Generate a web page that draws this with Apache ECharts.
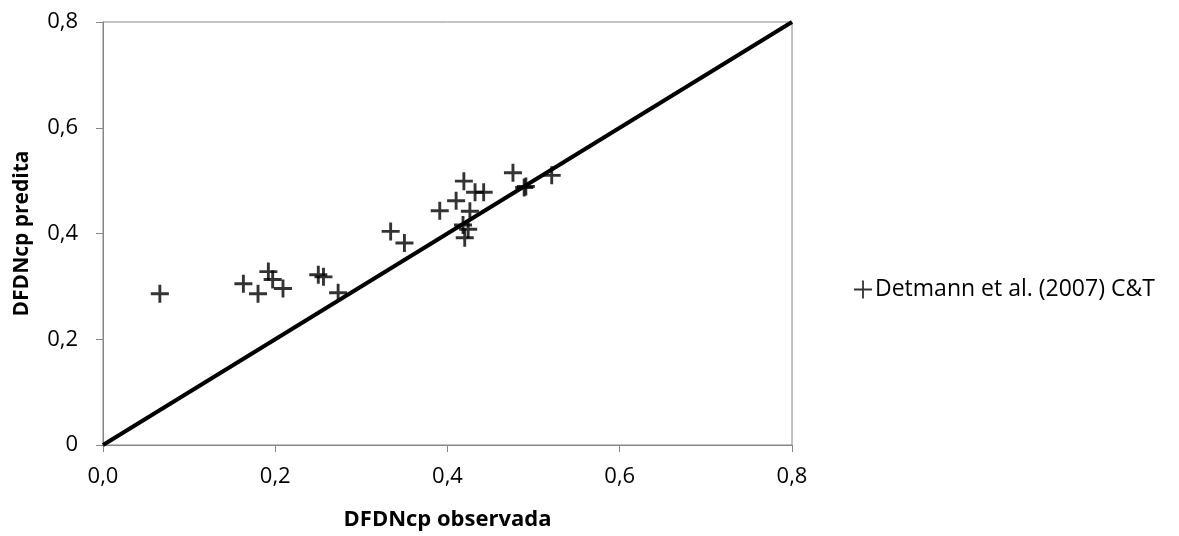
<!DOCTYPE html>
<html>
<head>
<meta charset="utf-8">
<script src="https://cdn.jsdelivr.net/npm/echarts@6/dist/echarts.min.js"></script>
<style>
  html, body { margin: 0; padding: 0; background: #fff; }
  #chart { width: 1179px; height: 536px; }
</style>
</head>
<body>
<div id="chart"></div>
<script>
// observada (x) vs predita (y)
const observada = [0.066, 0.163, 0.180, 0.192, 0.197, 0.209, 0.250, 0.256, 0.273,
  0.334, 0.350, 0.391, 0.410, 0.419, 0.432, 0.442, 0.426, 0.418, 0.424, 0.420,
  0.476, 0.489, 0.491, 0.521];
const predita = [0.286, 0.305, 0.286, 0.328, 0.313, 0.296, 0.322, 0.318, 0.288,
  0.404, 0.382, 0.443, 0.462, 0.499, 0.478, 0.478, 0.442, 0.416, 0.408, 0.392,
  0.515, 0.487, 0.489, 0.510];
const linha = [[0, 0], [0.8, 0.8]];
const xTicks = ["0,0", "0,2", "0,4", "0,6", "0,8"];
const yTicks = ["0", "0,2", "0,4", "0,6", "0,8"];

const plus = "path://M8.4,0H11.6V8.4H20V11.6H11.6V20H8.4V11.6H0V8.4H8.4Z";
const plusThin = "path://M9,0H11V9H20V11H11V20H9V11H0V9H9Z";
const font = "'Open Sans', 'Liberation Sans', sans-serif";

const chart = echarts.init(document.getElementById("chart"));
chart.setOption({
  animation: false,
  textStyle: { fontFamily: font },
  grid: {
    left: 103, right: 387, top: 22, bottom: 89,
    show: true, borderColor: "#868686", borderWidth: 1
  },
  legend: {
    left: 849, top: 273,
    itemWidth: 18, itemHeight: 18, itemGap: 5,
    textStyle: { fontSize: 23, color: "#000", fontFamily: font, padding: [0, 0, 0, -2] },
    data: [{ name: "Detmann et al. (2007) C&T", icon: plusThin }]
  },
  xAxis: {
    type: "value", min: 0, max: 0.8, interval: 0.2,
    name: "DFDNcp observada", nameLocation: "middle", nameGap: 64,
    nameTextStyle: { fontSize: 22, fontWeight: "bold", color: "#000", fontFamily: font },
    axisLine: { lineStyle: { color: "#868686" } },
    axisTick: { show: true, length: 7, lineStyle: { color: "#868686" } },
    splitLine: { show: false },
    axisLabel: {
      fontSize: 22, color: "#000", margin: 21,
      formatter: (v) => xTicks[Math.round(v / 0.2)]
    }
  },
  yAxis: {
    type: "value", min: 0, max: 0.8, interval: 0.2,
    name: "DFDNcp predita", nameLocation: "middle", nameGap: 70,
    nameTextStyle: { fontSize: 21, fontWeight: "bold", color: "#000", fontFamily: font },
    axisLine: { show: true, lineStyle: { color: "#868686" } },
    axisTick: { show: true, length: 7, lineStyle: { color: "#868686" } },
    splitLine: { show: false },
    axisLabel: {
      fontSize: 22, color: "#000", margin: 25,
      formatter: (v) => yTicks[Math.round(v / 0.2)]
    }
  },
  series: [
    {
      name: "1:1",
      type: "line",
      data: linha,
      symbol: "none",
      lineStyle: { color: "#000", width: 4 },
      z: 1
    },
    {
      name: "Detmann et al. (2007) C&T",
      type: "scatter",
      data: observada.map((x, i) => [x, predita[i]]),
      symbol: plus,
      symbolSize: 18,
      itemStyle: { color: "#000" },
      z: 2
    }
  ]
});
window.addEventListener("resize", () => chart.resize());
</script>
</body>
</html>
